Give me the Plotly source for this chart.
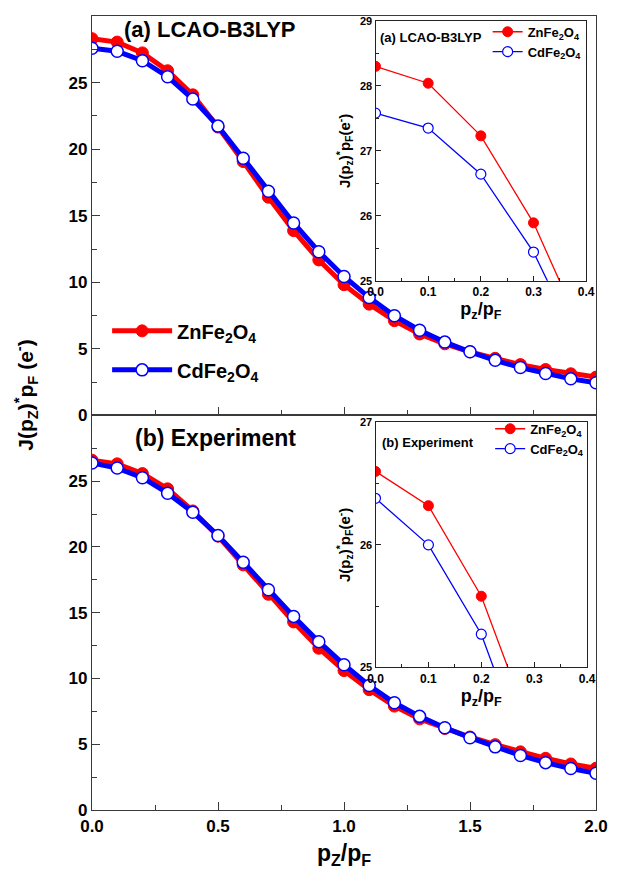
import plotly.graph_objects as go

# ---- data ----
pz = [0.0, 0.1, 0.2, 0.3, 0.4, 0.5, 0.6, 0.7, 0.8, 0.9, 1.0,
      1.1, 1.2, 1.3, 1.4, 1.5, 1.6, 1.7, 1.8, 1.9, 2.0]
zn_calc = [28.30, 28.04, 27.23, 25.89, 24.08, 21.66, 19.07, 16.39, 13.88, 11.68, 9.82,
           8.36, 7.12, 6.12, 5.38, 4.78, 4.29, 3.82, 3.45, 3.13, 2.88]
cd_calc = [27.58, 27.35, 26.64, 25.44, 23.76, 21.73, 19.32, 16.84, 14.46, 12.30, 10.44,
           8.85, 7.49, 6.40, 5.51, 4.78, 4.14, 3.60, 3.15, 2.75, 2.46]
zn_exp = [26.60, 26.32, 25.58, 24.42, 22.74, 20.82, 18.64, 16.40, 14.30, 12.30, 10.60,
          9.15, 7.90, 6.93, 6.20, 5.55, 4.97, 4.42, 3.93, 3.50, 3.18]
cd_exp = [26.38, 26.00, 25.27, 24.09, 22.64, 20.87, 18.84, 16.75, 14.72, 12.80, 11.05,
          9.47, 8.15, 7.12, 6.25, 5.50, 4.80, 4.15, 3.60, 3.15, 2.80]

main_xticks = [0.0, 0.5, 1.0, 1.5, 2.0]
main_xticklabels = ["0.0", "0.5", "1.0", "1.5", "2.0"]
main_yticks = [0, 5, 10, 15, 20, 25]
inset_xticks = [0.0, 0.1, 0.2, 0.3, 0.4]
inset_xticklabels = ["0.0", "0.1", "0.2", "0.3", "0.4"]
inset_a_yticks = [25, 26, 27, 28, 29]
inset_b_yticks = [25, 26, 27]

ZN = "ZnFe<sub>2</sub>O<sub>4</sub>"
CD = "CdFe<sub>2</sub>O<sub>4</sub>"
RED = "#ff0000"
BLUE = "#0000ff"
FONT = "Liberation Sans, Arial, sans-serif"
AX = "#3a3a3a"

fig = go.Figure()

def main_pair(y_zn, y_cd, xa, ya, show, leg):
    fig.add_trace(go.Scatter(x=pz, y=y_zn, xaxis=xa, yaxis=ya, mode="lines+markers",
                             name="<b>" + ZN + "</b>", legend=leg, showlegend=show, legendgroup="zn",
                             line=dict(color=RED, width=5),
                             marker=dict(symbol="circle", size=12, color=RED,
                                         line=dict(color=RED, width=1))))
    fig.add_trace(go.Scatter(x=pz, y=y_cd, xaxis=xa, yaxis=ya, mode="lines+markers",
                             name="<b>" + CD + "</b>", legend=leg, showlegend=show, legendgroup="cd",
                             line=dict(color=BLUE, width=5),
                             marker=dict(symbol="circle", size=12, color="white",
                                         line=dict(color=BLUE, width=1.5))))

def inset_pair(y_zn, y_cd, xa, ya, leg):
    fig.add_trace(go.Scatter(x=pz, y=y_zn, xaxis=xa, yaxis=ya, mode="lines+markers",
                             name="<b>" + ZN + "</b>", legend=leg, legendgroup="zn" + leg,
                             line=dict(color=RED, width=1.3),
                             marker=dict(symbol="circle", size=10, color=RED,
                                         line=dict(color=RED, width=1))))
    fig.add_trace(go.Scatter(x=pz, y=y_cd, xaxis=xa, yaxis=ya, mode="lines+markers",
                             name="<b>" + CD + "</b>", legend=leg, legendgroup="cd" + leg,
                             line=dict(color=BLUE, width=1.3),
                             marker=dict(symbol="circle", size=10, color="white",
                                         line=dict(color=BLUE, width=1.2))))

main_pair(zn_calc, cd_calc, "x", "y", True, "legend")
main_pair(zn_exp, cd_exp, "x2", "y2", False, "legend")
inset_pair(zn_calc, cd_calc, "x3", "y3", "legend2")
inset_pair(zn_exp, cd_exp, "x4", "y4", "legend3")

split = 0.4969
main_x_common = dict(range=[0, 2], showline=True, linecolor=AX, linewidth=1.3, mirror=True,
                     ticks="inside", ticklen=8, tickwidth=1.2, tickcolor=AX,
                     tickvals=main_xticks, ticktext=main_xticklabels,
                     minor=dict(tickvals=[0.25, 0.75, 1.25, 1.75], ticks="inside", ticklen=5,
                                tickcolor=AX, tickwidth=1.2),
                     showgrid=False, zeroline=False,
                     tickfont=dict(family=FONT, size=17, color="black", weight="bold"))
main_y_common = dict(range=[0, 30], showline=True, linecolor=AX, linewidth=1.3, mirror=True,
                     ticks="inside", ticklen=8, tickwidth=1.2, tickcolor=AX,
                     tickvals=main_yticks,
                     minor=dict(tickvals=[2.5, 7.5, 12.5, 17.5, 22.5, 27.5], ticks="inside",
                                ticklen=5, tickcolor=AX, tickwidth=1.2),
                     showgrid=False, zeroline=False,
                     tickfont=dict(family=FONT, size=17, color="black", weight="bold"))

inset_x_common = dict(range=[0, 0.4], showline=True, linecolor="#222", linewidth=1.2, mirror=True,
                      ticks="inside", ticklen=5, tickwidth=1, tickcolor="#222",
                      tickvals=inset_xticks, ticktext=inset_xticklabels,
                      minor=dict(tickvals=[0.05, 0.15, 0.25, 0.35], ticks="inside", ticklen=3,
                                 tickcolor="#222", tickwidth=1),
                      showgrid=False, zeroline=False,
                      tickfont=dict(family=FONT, size=12, color="black", weight="bold"),
                      title=dict(text="<b>p<sub>z</sub>/p<sub>F</sub></b>",
                                 font=dict(family=FONT, size=18, color="black"), standoff=4))
inset_y_common = dict(showline=True, linecolor="#222", linewidth=1.2, mirror=True,
                      ticks="inside", ticklen=5, tickwidth=1, tickcolor="#222",
                      showgrid=False, zeroline=False,
                      tickfont=dict(family=FONT, size=11, color="black", weight="bold"),
                      title=dict(text="<b>J(p<sub>z</sub>)<sup>*</sup>p<sub>F</sub>(e<sup>-</sup>)</b>",
                                 font=dict(family=FONT, size=15, color="black"), standoff=5))

fig.update_layout(
    width=618, height=872,
    margin=dict(l=92, r=14, t=10, b=61),
    plot_bgcolor="white", paper_bgcolor="white",
    font=dict(family=FONT, color="black"),
    xaxis=dict(domain=[0, 1], anchor="y", showticklabels=False, **main_x_common),
    yaxis=dict(domain=[split, 1], anchor="x", **main_y_common),
    xaxis2=dict(domain=[0, 1], anchor="y2",
                title=dict(text="<b>p<sub>Z</sub>/p<sub>F</sub></b>",
                           font=dict(family=FONT, size=23, color="black"), standoff=10),
                **main_x_common),
    yaxis2=dict(domain=[0, split], anchor="x2", **main_y_common),
    xaxis3=dict(domain=[0.5625, 0.9805], anchor="y3", **inset_x_common),
    yaxis3=dict(domain=[0.6667, 0.9938], anchor="x3", range=[25, 29], tickvals=inset_a_yticks,
                minor=dict(tickvals=[25.5, 26.5, 27.5, 28.5], ticks="inside", ticklen=3,
                           tickcolor="#222", tickwidth=1),
                **inset_y_common),
    xaxis4=dict(domain=[0.5625, 0.9824], anchor="y4", **inset_x_common),
    yaxis4=dict(domain=[0.1798, 0.4881], anchor="x4", range=[25, 27], tickvals=inset_b_yticks,
                minor=dict(tickvals=[25.5, 26.5], ticks="inside", ticklen=3,
                           tickcolor="#222", tickwidth=1),
                **inset_y_common),
    legend=dict(x=0.03, y=0.628, xanchor="left", yanchor="top", bgcolor="rgba(0,0,0,0)",
                font=dict(family=FONT, size=20, color="black"), tracegroupgap=10,
                itemwidth=60, traceorder="grouped"),
    legend2=dict(x=0.785, y=0.999, xanchor="left", yanchor="top", bgcolor="rgba(0,0,0,0)",
                 font=dict(family=FONT, size=13, color="black"), tracegroupgap=0,
                 itemwidth=30, traceorder="grouped"),
    legend3=dict(x=0.79, y=0.499, xanchor="left", yanchor="top", bgcolor="rgba(0,0,0,0)",
                 font=dict(family=FONT, size=13, color="black"), tracegroupgap=0,
                 itemwidth=30, traceorder="grouped"),
    showlegend=True,
)

ann = [
    dict(text="<b>(a) LCAO-B3LYP</b>", x=122, y=24, size=22),
    dict(text="<b>(b) Experiment</b>", x=134, y=436, size=23),
    dict(text="<b>(a) LCAO-B3LYP</b>", x=383, y=32, size=13),
    dict(text="<b>(b) Experiment</b>", x=385, y=440, size=13),
]
W, H, L, T, B = 618, 872, 92, 10, 61
pw, ph = W - L - 14, H - T - B
for a in ann:
    fig.add_annotation(text=a["text"], xref="paper", yref="paper",
                       x=(a["x"] - L) / pw, y=(H - B - a["y"]) / ph,
                       xanchor="left", yanchor="middle", showarrow=False,
                       font=dict(family=FONT, size=a["size"], color="black"))

fig.add_annotation(text="<b>J(p<sub>Z</sub>)<sup>*</sup>p<sub>F</sub> (e<sup>-</sup>)</b>",
                   xref="paper", yref="paper", x=(25 - L) / pw, y=(H - B - 393) / ph,
                   xanchor="center", yanchor="middle", textangle=-90, showarrow=False,
                   font=dict(family=FONT, size=21, color="black"))

fig.write_html("out.html")
